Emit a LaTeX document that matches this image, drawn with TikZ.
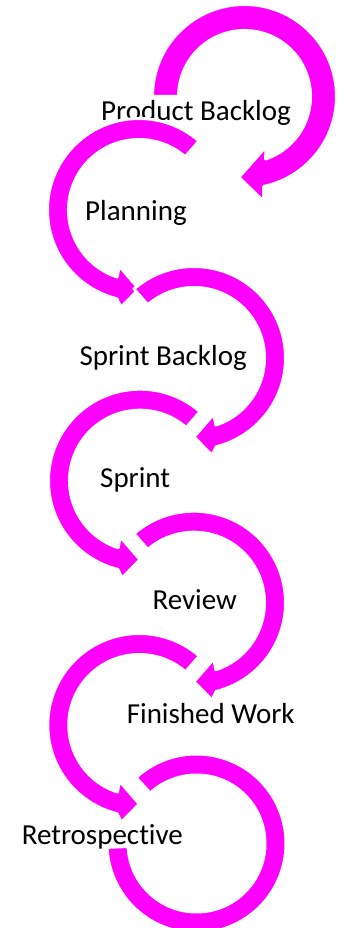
\documentclass[tikz,border=0pt]{standalone}
\usepackage{fontspec}
\setmainfont{Carlito}[Ligatures={NoCommon}]
\definecolor{mag}{HTML}{FF00FF}
\tikzset{
  ringshape/.style={fill=mag, draw=white, line width=3pt, line join=round},
  lbl/.style={anchor=base west, inner sep=0pt, text=black, font=\fontsize{29}{34}\selectfont},
  cwarc/.pic={
    \path[ringshape] (131:91.5) arc[start angle=131,end angle=-76,radius=91.5]
      -- (-79.5:99) -- (-90:79) -- (-70.5:59.5) -- (-72:70.5)
      arc[start angle=-72,end angle=131,radius=70.5] -- cycle;
  },
  ccwarc/.pic={
    \path[ringshape] (49:91.5) arc[start angle=49,end angle=256,radius=91.5]
      -- (259.5:99) -- (270:79) -- (250.5:59.5) -- (252:70.5)
      arc[start angle=252,end angle=49,radius=70.5] -- cycle;
  }
}
\begin{document}
\begin{tikzpicture}[x=1pt,y=1pt]
\useasboundingbox (0,0) rectangle (343,928);
% arc 1
\begin{scope}[shift={(244.5,831.5)}]
\path[ringshape] (180:92) arc[start angle=180,end angle=-78,radius=92]
  -- (-79.7:106.5) -- (-94:81) -- (-66.6:54.5) -- (-71.4:66)
  arc[start angle=-71.4,end angle=180,radius=66] -- cycle;
\end{scope}
\node[lbl] (pb) at (101,807) {Product Backlog};
\pic at (139,718) {ccwarc};
\pic at (194,570) {cwarc};
\pic at (140,447.3) {ccwarc};
\pic at (194,325.3) {cwarc};
\pic at (139.3,203) {ccwarc};
% arc 7
\begin{scope}[shift={(196.5,84.5)}]
\path[ringshape] (132.5:89.5) arc[start angle=132.5,end angle=-177.5,radius=89.5]
  -- (-177.5:68.5) arc[start angle=-177.5,end angle=132.5,radius=68.5] -- cycle;
\end{scope}
\node[lbl] (pl) at (85,707) {Planning};
\node[lbl] (sb) at (79.3,562.3) {Sprint Backlog};
\node[lbl] (sp) at (100,440.3) {Sprint};
\node[lbl] (rv) at (152.3,318) {Review};
\node[lbl] (fw) at (126.6,204) {Finished Work};
\node[lbl] (rt) at (21.6,83) {Retrospective};
\end{tikzpicture}
\end{document}
